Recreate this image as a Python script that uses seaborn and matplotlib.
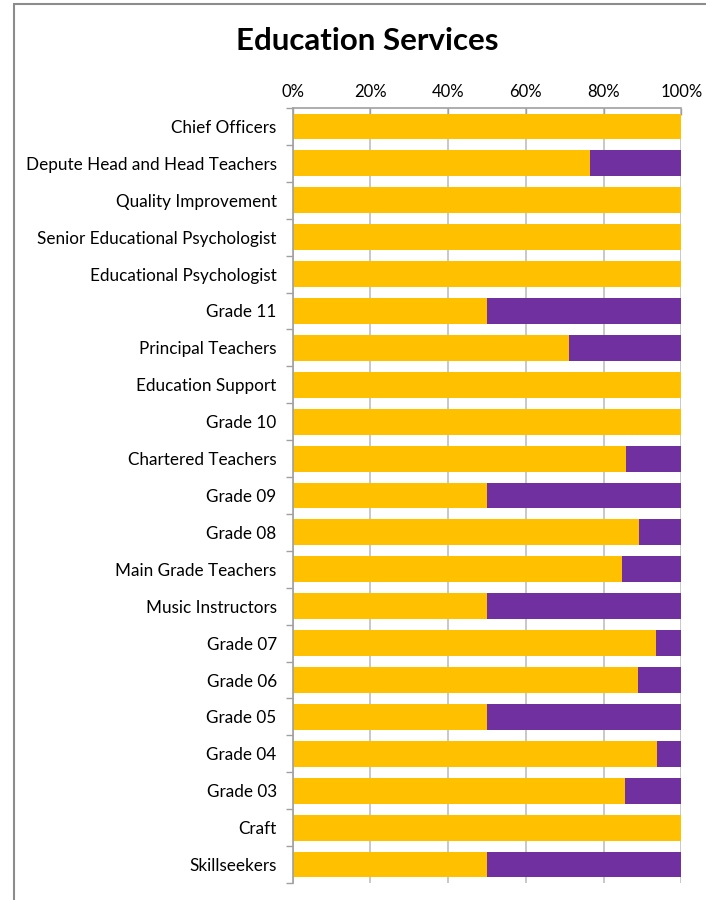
import matplotlib
matplotlib.use("Agg")
import matplotlib.pyplot as plt
import seaborn as sns
import pandas as pd
import numpy as np
from matplotlib.patches import Rectangle
from matplotlib.ticker import FixedLocator, PercentFormatter

categories = [
    "Chief Officers", "Depute Head and Head Teachers", "Quality Improvement",
    "Senior Educational Psychologist", "Educational Psychologist", "Grade 11",
    "Principal Teachers", "Education Support", "Grade 10", "Chartered Teachers",
    "Grade 09", "Grade 08", "Main Grade Teachers", "Music Instructors",
    "Grade 07", "Grade 06", "Grade 05", "Grade 04", "Grade 03", "Craft",
    "Skillseekers",
]
share_a = [100, 76.5, 100, 100, 100, 50, 71, 100, 100, 85.7,
           50, 89, 84.8, 50, 93.6, 88.8, 50, 93.8, 85.5, 100, 50]
share_b = [100 - v for v in share_a]
x_ticks = [0, 20, 40, 60, 80, 100]

title_text = "Education Services"
color_a = "#FFC000"
color_b = "#7030A0"

sns.set_theme(style="white")
plt.rcParams["font.family"] = ["Lato", "DejaVu Sans"]

df = pd.DataFrame({"category": categories, "a": share_a,
                   "total": [a + b for a, b in zip(share_a, share_b)]})

fig = plt.figure(figsize=(7.06, 9.0), dpi=100)
ax = fig.add_axes([292.7 / 706, 1 - 883 / 900, (681.3 - 292.7) / 706, (883 - 108) / 900])

sns.barplot(data=df, y="category", x="total", color=color_b, orient="h",
            width=0.7, saturation=1, ax=ax, linewidth=0)
sns.barplot(data=df, y="category", x="a", color=color_a, orient="h",
            width=0.7, saturation=1, ax=ax, linewidth=0)

ax.set_xlim(0, 100)
ax.set_ylim(len(categories) - 0.5, -0.5)
ax.set_xlabel("")
ax.set_ylabel("")

ax.xaxis.tick_top()
ax.set_xticks(x_ticks)
ax.xaxis.set_major_formatter(PercentFormatter(decimals=0))
ax.tick_params(axis="x", which="major", direction="in", length=5, width=1,
               color="#A0A0A0", labelsize=12, pad=6, labelcolor="#000000")
ax.grid(axis="x", color="#BFBFBF", linewidth=1.2)
ax.set_axisbelow(True)

ax.tick_params(axis="y", which="major", length=0, labelsize=12.3, pad=11.5,
               labelcolor="#000000")
ax.yaxis.set_minor_locator(FixedLocator(np.arange(-0.5, len(categories), 1.0)))
ax.tick_params(axis="y", which="minor", left=True, length=5, width=1,
               color="#A0A0A0", direction="out")

for side in ["right", "bottom"]:
    ax.spines[side].set_visible(False)
for side in ["left", "top"]:
    ax.spines[side].set_color("#A0A0A0")
    ax.spines[side].set_linewidth(1.2)

fig.text(367 / 706, 1 - 41 / 900, title_text, ha="center", va="center",
         fontsize=22.5, fontweight="bold", color="#000000")

# outer chart frame
fig.patches.append(Rectangle((13.5 / 706, -0.05), 1.2, 1.05 - 4.5 / 900,
                             transform=fig.transFigure, fill=False,
                             edgecolor="#8C8C8C", linewidth=1.5))

fig.savefig("out.png", dpi=100)
